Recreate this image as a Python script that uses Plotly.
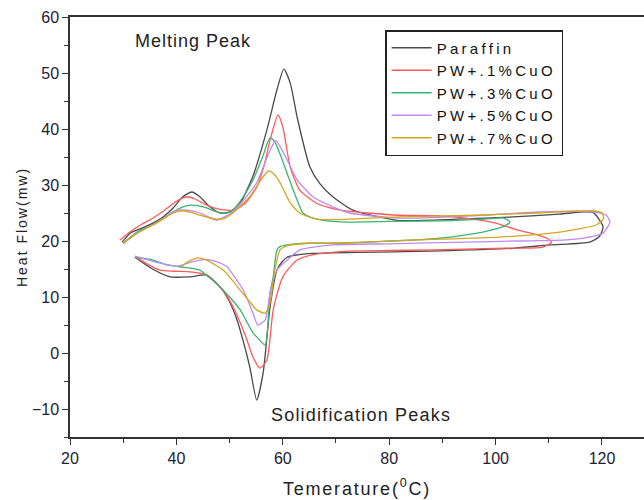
import plotly.graph_objects as go

# ---- data ----
series_names = ["Paraffin", "PW+.1%CuO", "PW+.3%CuO", "PW+.5%CuO", "PW+.7%CuO"]
series_colors = ["#4a4a4a", "#ff5a5a", "#3cb371", "#c08af0", "#d4a520"]

paraffin_x = [29.8, 31.3, 33.5, 35.6, 37.5, 39.4, 41.2, 42.9, 44.4, 46.3, 48.2, 50.1, 52.0, 54.4, 57.0, 58.9, 60.2, 61.4, 62.7, 65.1, 67.0, 69.4, 73.2, 81.5, 92.7, 103.3, 112.0, 118.3, 120.2, 119.5, 117.7, 110.2, 103.3, 95.0, 87.7, 78.0, 69.4, 65.7, 62.5, 60.8, 59.8, 58.9, 57.6, 56.3, 55.1, 53.8, 52.6, 51.4, 49.8, 48.2, 45.7, 42.6, 38.8, 35.5, 32.2]
paraffin_y = [19.8, 21.4, 22.3, 23.2, 24.3, 25.9, 27.9, 28.75, 27.9, 26.1, 25.0, 25.2, 26.8, 31.6, 39.8, 47.0, 50.7, 48.2, 42.1, 33.2, 30.2, 27.9, 25.5, 23.7, 23.9, 24.3, 24.8, 25.1, 22.5, 20.8, 19.8, 19.3, 18.7, 18.4, 18.2, 18.0, 17.9, 17.8, 17.5, 17.1, 16.2, 14.8, 8.2, -3.6, -8.4, -2.5, 2.0, 5.9, 9.5, 11.8, 13.9, 13.6, 13.6, 15.0, 17.1]

cuo1_x = [29.4, 31.5, 33.5, 35.6, 37.5, 39.4, 41.0, 42.0, 43.5, 45.7, 47.5, 49.5, 51.0, 53.0, 55.1, 56.5, 57.6, 59.1, 60.0, 61.4, 63.2, 66.4, 70.8, 76.0, 82.0, 89.5, 95.8, 100.0, 104.0, 107.5, 109.7, 110.5, 108.9, 100.0, 88.3, 80.0, 72.6, 66.0, 62.7, 60.0, 58.2, 57.0, 55.7, 54.4, 53.2, 52.0, 50.5, 48.8, 45.7, 42.6, 39.5, 36.9, 34.5, 32.2]
cuo1_y = [20.2, 21.8, 23.0, 24.1, 25.3, 26.7, 27.6, 27.9, 27.5, 26.4, 25.8, 25.5, 25.5, 26.8, 29.6, 33.5, 38.0, 42.5, 40.4, 33.2, 29.1, 26.7, 25.5, 25.0, 24.6, 24.5, 23.9, 23.2, 22.0, 21.2, 20.5, 19.8, 18.9, 18.7, 18.4, 18.3, 18.2, 17.6, 16.6, 13.6, 7.7, -1.3, -2.7, -0.7, 2.5, 5.4, 8.5, 11.2, 13.9, 14.5, 14.6, 14.8, 15.9, 17.2]

cuo3_x = [30.0, 32.0, 33.8, 35.6, 37.5, 39.4, 41.0, 42.6, 44.0, 45.7, 47.6, 49.5, 50.6, 52.5, 54.4, 56.2, 57.6, 58.5, 59.7, 60.8, 62.7, 63.8, 66.0, 70.8, 80.0, 90.0, 98.0, 101.5, 102.7, 101.5, 97.6, 89.5, 85.2, 78.0, 71.3, 64.5, 60.8, 59.5, 58.9, 58.2, 57.6, 56.7, 55.5, 54.4, 52.0, 50.0, 48.2, 46.0, 44.4, 40.7, 38.0, 35.6, 32.2]
cuo3_y = [19.6, 21.2, 22.2, 22.9, 24.0, 25.2, 26.0, 26.4, 26.3, 25.9, 25.2, 25.0, 25.5, 27.8, 30.9, 35.0, 38.4, 37.7, 35.0, 32.1, 27.3, 25.0, 24.0, 23.4, 23.5, 23.6, 23.9, 24.1, 23.4, 22.6, 21.6, 20.5, 20.2, 19.9, 19.6, 19.6, 19.3, 19.0, 18.4, 13.6, 10.7, 1.4, 2.5, 3.6, 7.7, 10.0, 11.8, 13.6, 14.8, 15.4, 15.8, 16.6, 17.1]

cuo5_x = [30.0, 32.0, 33.8, 35.6, 37.5, 40.1, 42.0, 44.4, 46.0, 47.6, 49.0, 50.6, 52.8, 55.1, 57.6, 58.7, 60.8, 62.7, 65.7, 69.4, 72.6, 82.0, 95.8, 108.3, 118.3, 120.8, 121.5, 120.2, 117.0, 113.4, 104.0, 94.6, 80.0, 69.4, 63.2, 61.4, 58.9, 57.6, 56.7, 55.3, 54.4, 52.6, 51.0, 49.5, 47.5, 45.7, 42.6, 40.1, 36.3, 32.2]
cuo5_y = [19.5, 21.0, 22.0, 22.9, 24.0, 25.5, 25.5, 25.0, 24.3, 23.7, 24.3, 25.2, 27.5, 30.4, 36.2, 37.9, 34.5, 30.9, 27.9, 26.1, 25.0, 24.1, 24.5, 25.2, 25.2, 24.6, 23.4, 21.4, 20.6, 20.2, 20.0, 19.8, 19.5, 19.3, 18.4, 17.1, 14.8, 10.7, 5.9, 5.0, 7.1, 11.2, 13.5, 15.4, 16.3, 16.7, 16.2, 15.5, 16.2, 17.3]

cuo7_x = [30.0, 32.0, 33.8, 35.6, 37.5, 39.4, 41.2, 42.8, 44.4, 46.0, 47.6, 49.0, 50.6, 52.2, 53.8, 55.6, 57.3, 58.3, 59.5, 61.4, 63.2, 66.4, 69.4, 82.0, 95.8, 108.3, 118.3, 120.0, 120.3, 119.0, 116.0, 112.1, 100.8, 85.2, 69.4, 65.1, 61.0, 59.5, 58.5, 57.6, 56.7, 55.1, 53.5, 52.0, 50.5, 48.8, 45.7, 44.0, 42.0, 41.0]
cuo7_y = [19.6, 21.0, 22.0, 22.9, 23.9, 25.0, 25.4, 25.1, 24.6, 24.2, 23.9, 24.0, 25.0, 26.4, 27.9, 30.5, 32.5, 32.0, 30.4, 26.8, 25.0, 23.9, 23.8, 24.3, 24.6, 25.0, 25.4, 25.0, 24.0, 22.9, 22.2, 21.6, 20.7, 20.2, 19.6, 19.6, 19.2, 18.4, 14.8, 8.9, 7.1, 7.7, 9.5, 11.2, 13.0, 14.8, 16.6, 17.0, 16.2, 15.4]

series_x = [paraffin_x, cuo1_x, cuo3_x, cuo5_x, cuo7_x]
series_y = [paraffin_y, cuo1_y, cuo3_y, cuo5_y, cuo7_y]

x_ticks = [20, 40, 60, 80, 100, 120]
y_ticks = [-10, 0, 10, 20, 30, 40, 50, 60]


def spaced(text, px):
    return '<span style="letter-spacing:%spx">%s</span>' % (px, text)


fig = go.Figure()
for name, color, xs, ys in zip(series_names, series_colors, series_x, series_y):
    fig.add_trace(go.Scatter(
        x=xs, y=ys, mode="lines", name=spaced(name, 3.3),
        line=dict(color=color, width=1.3, shape="spline", smoothing=0.6),
    ))

axis_font = dict(family="Liberation Sans, Arial, sans-serif", size=16, color="#222233")

fig.update_layout(
    width=644, height=500,
    margin=dict(l=70, r=0, t=17, b=63),
    paper_bgcolor="white", plot_bgcolor="white",
    font=dict(family="Liberation Sans, Arial, sans-serif", color="#222"),
    showlegend=True,
    legend=dict(
        x=0.549, y=0.969, xanchor="left", yanchor="top",
        bgcolor="white", bordercolor="#222", borderwidth=1.5,
        font=dict(size=15, color="#111"),
        tracegroupgap=0, itemwidth=40,
    ),
    xaxis=dict(
        range=[20, 127.9], tickvals=x_ticks, ticks="outside", ticklen=6,
        tickwidth=1.2, tickcolor="#333", automargin=False,
        minor=dict(ticks="outside", ticklen=4, dtick=10, tickcolor="#333", tickwidth=1.2),
        showline=True, linecolor="#333", linewidth=1.5, mirror=True,
        showgrid=False, zeroline=False, tickfont=axis_font,
        title=dict(text=spaced("Temerature(<sup>0</sup>C)", 1.8), font=dict(size=18, color="#222"), standoff=16),
    ),
    yaxis=dict(
        range=[-15, 60], tickvals=y_ticks, ticks="outside", ticklen=6,
        tickwidth=1.2, tickcolor="#333", automargin=False,
        minor=dict(ticks="outside", ticklen=4, dtick=5, tickcolor="#333", tickwidth=1.2),
        showline=True, linecolor="#333", linewidth=1.5,
        showgrid=False, zeroline=False, tickfont=axis_font,
        title=dict(text=spaced("Heat Flow(mw)", 2), font=dict(size=14, color="#222"), standoff=1),
    ),
    annotations=[
        dict(text=spaced("Melting Peak", 1), x=0.215, y=0.943, xref="paper", yref="paper",
             xanchor="center", yanchor="middle",
             showarrow=False, font=dict(size=18, color="#222")),
        dict(text=spaced("Solidification Peaks", 1.2), x=0.507, y=0.052, xref="paper", yref="paper",
             xanchor="center", yanchor="middle",
             showarrow=False, font=dict(size=18, color="#222")),
    ],
)

fig.write_html(
    "out.html",
    config={"displayModeBar": False},
    post_script="document.body.style.margin='0';document.body.style.overflow='hidden';",
)
